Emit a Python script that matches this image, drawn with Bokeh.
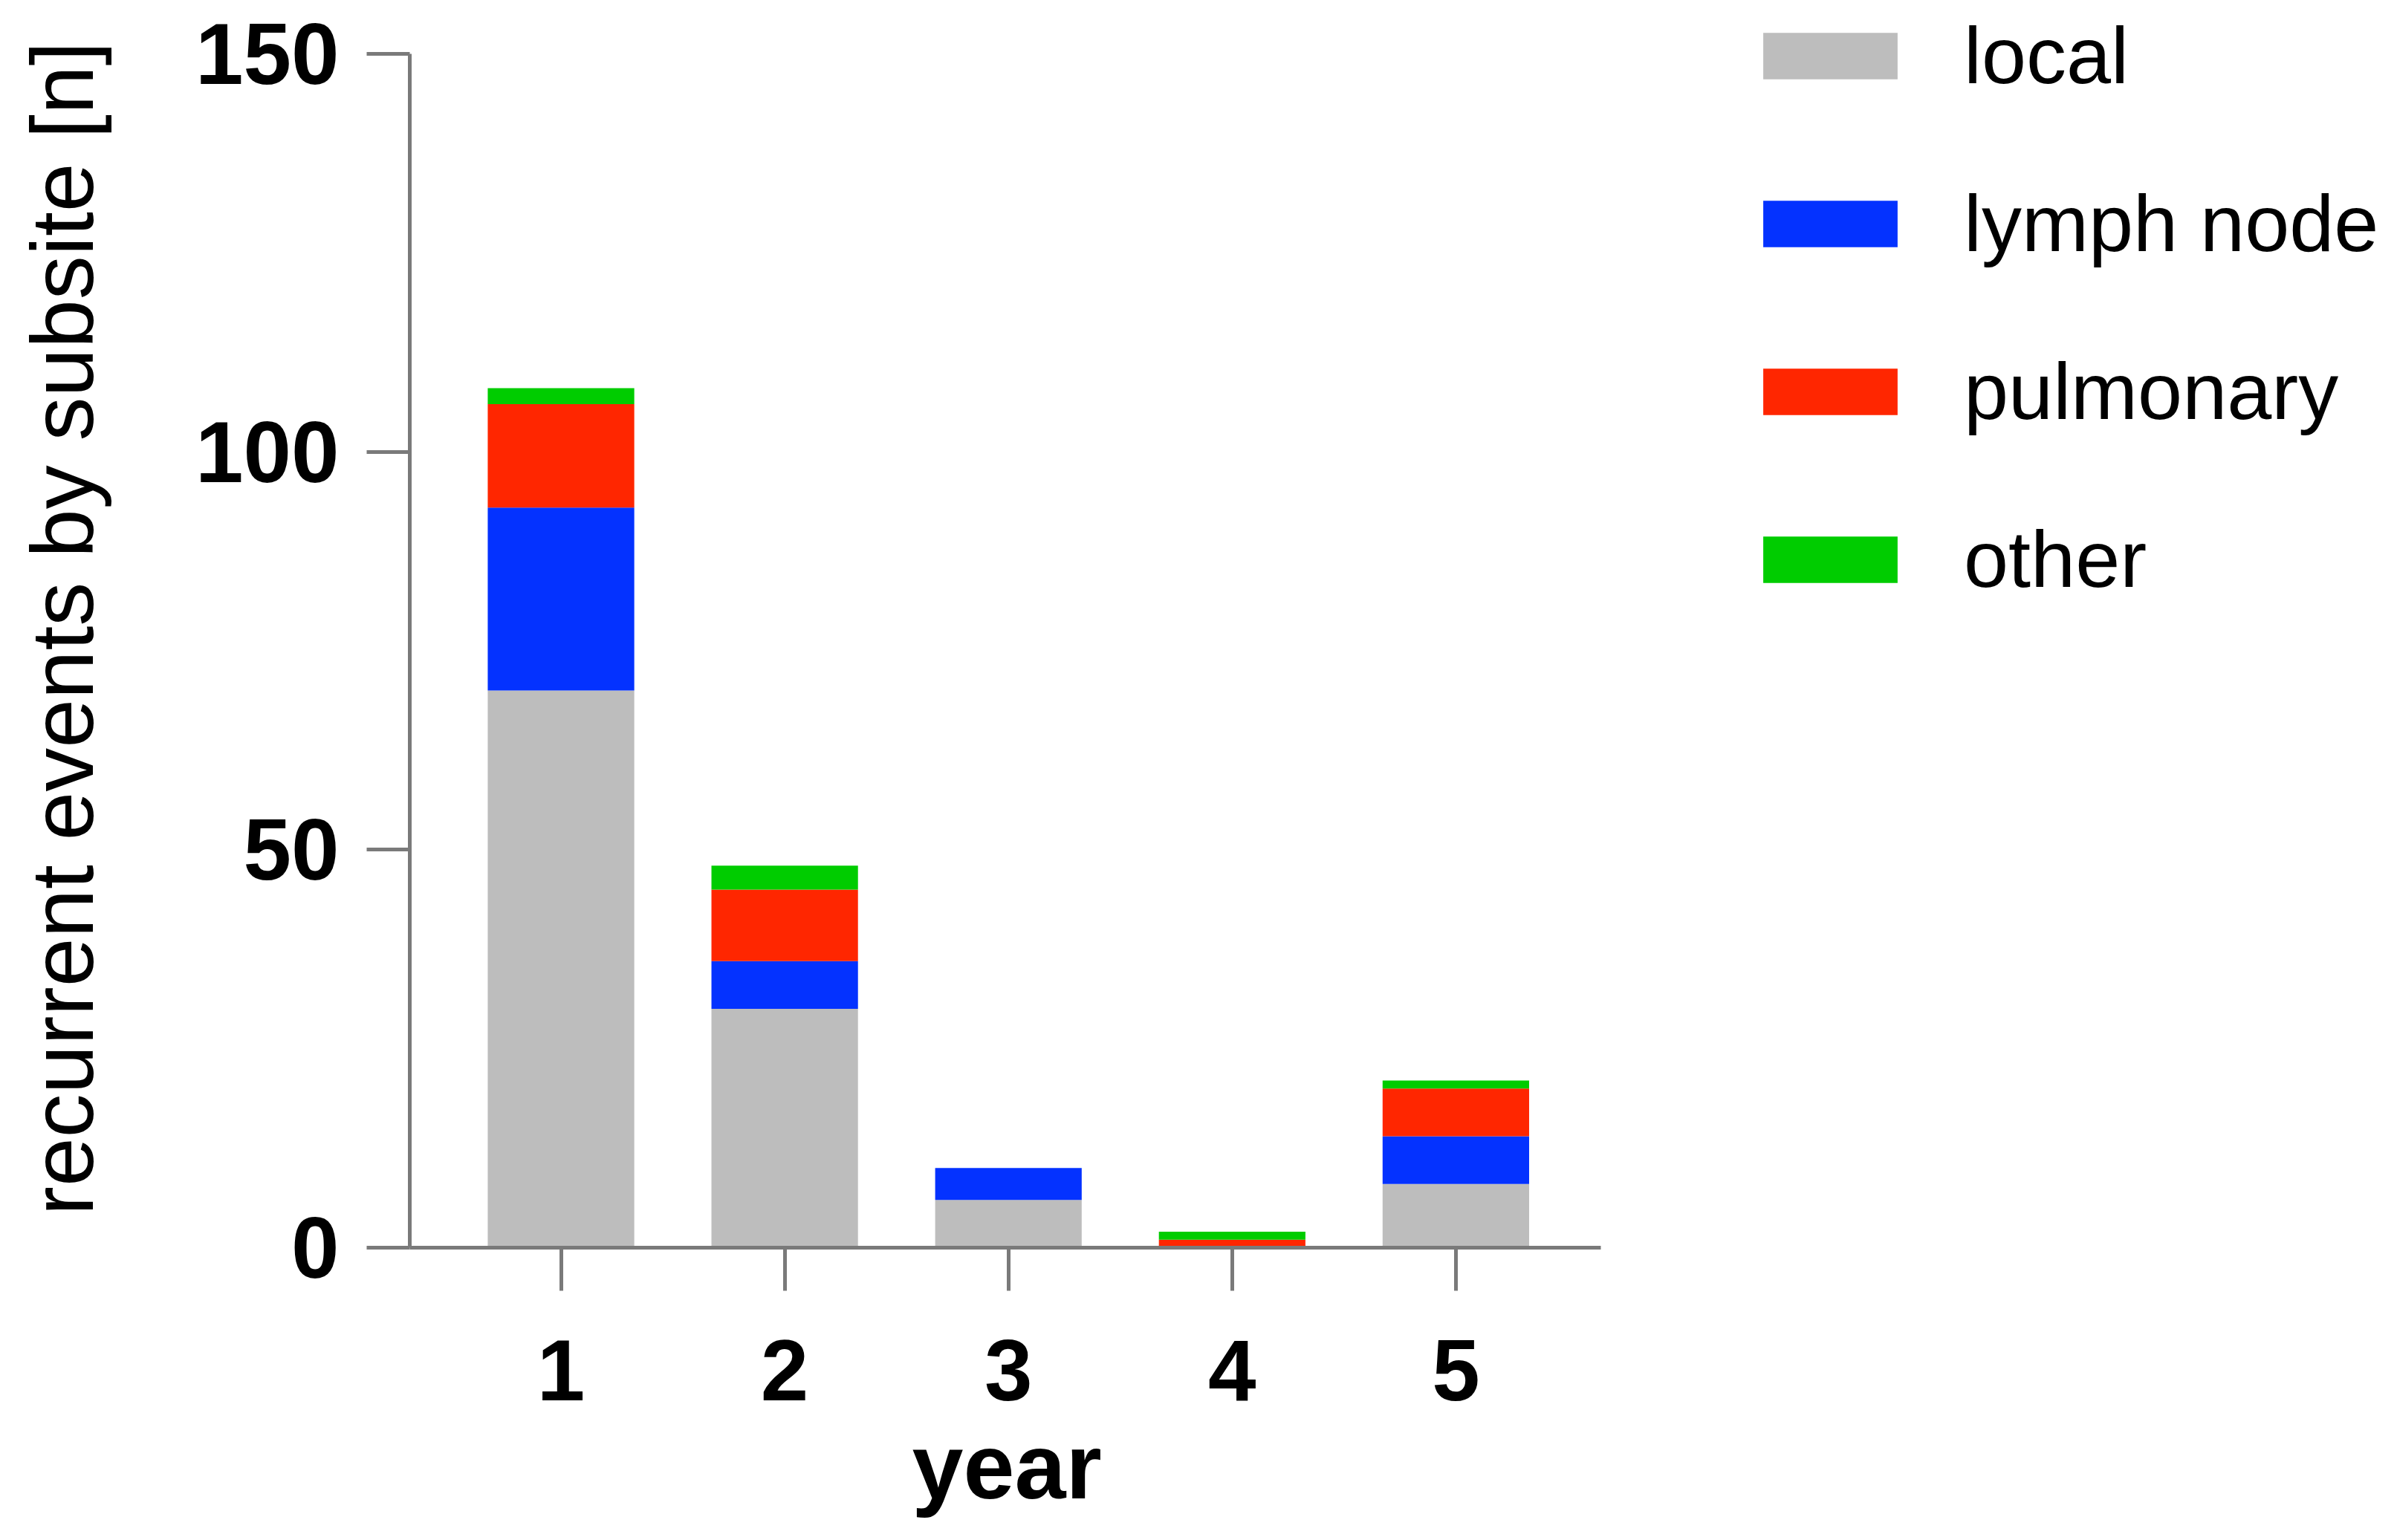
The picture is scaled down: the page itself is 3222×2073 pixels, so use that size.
from bokeh.embed import file_html
from bokeh.models import FixedTicker, Legend, LegendItem, Title
from bokeh.plotting import figure
from bokeh.resources import INLINE

# Data
years = [1, 2, 3, 4, 5]
local = [70, 30, 6, 0, 8]
lymph_node = [23, 6, 4, 0, 6]
pulmonary = [13, 9, 0, 1, 6]
other = [2, 3, 0, 1, 1]
y_ticks = [0, 50, 100, 150]

series = ["local", "lymph node", "pulmonary", "other"]
colors = ["#BDBDBD", "#0432FF", "#FF2600", "#00CC00"]

FONT = "Liberation Sans"
AXIS_COLOR = "#7a7a7a"

# Page geometry (px). The frame is stretched to the right and top edges so
# the legend can sit inside it; the visible axes are limited with `bounds`.
W, H = 3206, 2057
LEFT, TOP, BOTTOM = 551, 12, 378
AX_X0, AX_X1 = 0.324, 5.648   # visible x-axis extent (data units)
AX_W, AX_H = 1603, 1607       # visible axes extent (px)
frame_w, frame_h = W - LEFT, H - BOTTOM - TOP
x_end = AX_X0 + frame_w * (AX_X1 - AX_X0) / AX_W
y_end = frame_h * y_ticks[-1] / AX_H

p = figure(
    width=W,
    height=H,
    x_range=(AX_X0, x_end),
    y_range=(0, y_end),
    output_backend="svg",
    toolbar_location=None,
    min_border_left=LEFT,
    min_border_right=0,
    min_border_top=TOP,
    min_border_bottom=BOTTOM,
)
p.outline_line_color = None
p.grid.grid_line_color = None

data = {
    "years": years,
    "local": local,
    "lymph node": lymph_node,
    "pulmonary": pulmonary,
    "other": other,
}
renderers = p.vbar_stack(
    series, x="years", width=0.655, color=colors, line_color=None, source=data
)

for ax in (p.xaxis[0], p.yaxis[0]):
    ax.axis_line_color = AXIS_COLOR
    ax.axis_line_width = 5
    ax.major_tick_line_color = AXIS_COLOR
    ax.major_tick_line_width = 5
    ax.major_tick_in = 0
    ax.major_tick_out = 58
    ax.minor_tick_line_color = None
    ax.major_label_text_font = FONT
    ax.major_label_text_font_style = "bold"
    ax.major_label_text_font_size = "116px"
    ax.major_label_text_color = "black"

p.xaxis.bounds = (AX_X0, AX_X1)
p.xaxis.ticker = FixedTicker(ticks=years)
p.xaxis.major_label_standoff = 66

p.yaxis.bounds = (y_ticks[0], y_ticks[-1])
p.yaxis.ticker = FixedTicker(ticks=y_ticks)
p.yaxis.major_label_standoff = 37
p.yaxis.axis_label = "recurrent events by subsite [n]"
p.yaxis.axis_label_text_font = FONT
p.yaxis.axis_label_text_color = "black"
p.yaxis.axis_label_text_font_style = "normal"
p.yaxis.axis_label_text_font_size = "118px"
p.yaxis.axis_label_standoff = 110

# x title as a plot title, so it can be placed under the visible axis
xtitle = Title(
    text="year",
    align="left",
    offset=676,
    standoff=30,
    text_font=FONT,
    text_font_size="124px",
    text_font_style="bold",
    text_color="black",
)
p.add_layout(xtitle, "below")

items = [LegendItem(label=name, renderers=[r]) for name, r in zip(series, renderers)]
legend = Legend(
    items=items,
    location=(1799, 864),  # bottom-left corner of the legend box, frame px
    padding=0,
    margin=0,
    spacing=101,
    glyph_width=226,
    glyph_height=78,
    label_standoff=67,
    label_text_font=FONT,
    label_text_font_size="108px",
    label_text_color="black",
    border_line_color=None,
    background_fill_alpha=0,
)
p.add_layout(legend, "center")

open("out.html", "w").write(file_html(p, INLINE))
